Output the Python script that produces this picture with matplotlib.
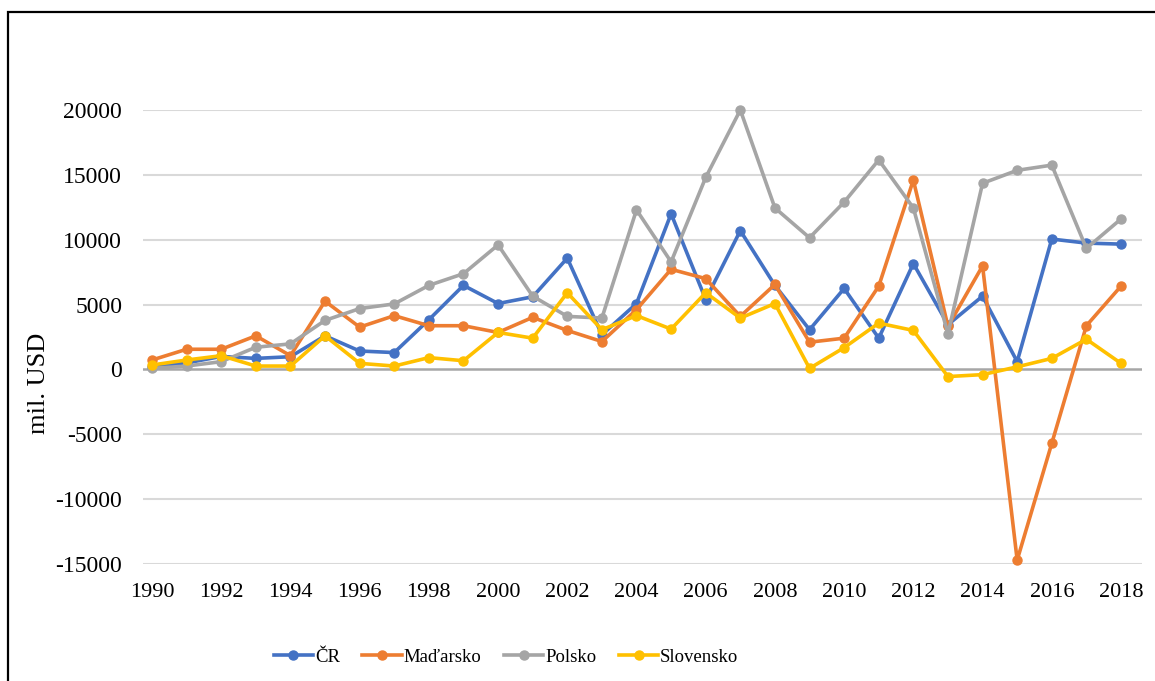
import matplotlib
matplotlib.use("Agg")
import matplotlib.pyplot as plt
from matplotlib.patches import Rectangle

years = list(range(1990, 2019))
cr = [200, 500, 1000, 850, 980, 2590, 1420, 1300, 3830, 6480,
      5080, 5600, 8580, 2670, 5080, 12000, 5390, 10700, 6480, 3060,
      6240, 2410, 8160, 3450, 5650, 600, 10050, 9740, 9660]
madarsko = [725, 1555, 1555, 2590, 1060, 5260, 3260, 4145, 3370, 3370,
            2850, 4015, 3005, 2150, 4610, 7720, 7000, 4090, 6550, 2100,
            2410, 6420, 14600, 3320, 7980, -14700, -5700, 3370, 6420]
polsko = [80, 260, 600, 1710, 1970, 3780, 4690, 5050, 6480, 7380,
          9600, 5650, 4090, 3960, 12300, 8290, 14800, 20000, 12450, 10150,
          12900, 16150, 12450, 2750, 14350, 15350, 15750, 9330, 11600]
slovensko = [340, 725, 1060, 260, 260, 2590, 470, 260, 910, 670,
             2850, 2410, 5910, 3060, 4150, 3110, 5910, 3960, 5080, 80,
             1680, 3570, 3005, -550, -400, 200, 850, 2330, 470]

series = [("ČR", cr, "#4472C4"), ("Maďarsko", madarsko, "#ED7D31"),
          ("Polsko", polsko, "#A5A5A5"), ("Slovensko", slovensko, "#FFC000")]
yticks = list(range(-15000, 20001, 5000))
xticks = list(range(1990, 2019, 2))

plt.rcParams['font.family'] = ['Liberation Serif', 'DejaVu Serif']

W, H = 1155, 681
fig = plt.figure(figsize=(W / 100, H / 100), dpi=100)
ax = fig.add_axes([143 / W, 1 - 564 / H, (1142 - 143) / W, (564 - 110) / H])

for i, (name, vals, col) in enumerate(series):
    ax.plot(years, vals, color=col, lw=2.6, marker='o', ms=6.5,
            label=name, clip_on=False, zorder=3 + i, solid_joinstyle='round')

ax.set_xlim(1990 - 9 / 34.6, 2018 + 21 / 34.6)
ax.set_ylim(-15000, 20000)
ax.set_yticks(yticks)
ax.set_xticks(xticks)
ax.set_yticklabels([str(v) for v in yticks], fontsize=17)
ax.set_xticklabels([str(v) for v in xticks], fontsize=16)
ax.tick_params(axis='both', length=0)
ax.tick_params(axis='y', pad=15)
ax.tick_params(axis='x', pad=14)
for s in ax.spines.values():
    s.set_visible(False)
for v in yticks:
    if v == 0:
        ax.axhline(v, color='#a6a6a6', lw=1.8, zorder=2)
    else:
        ax.axhline(v, color='#d9d9d9', lw=1.5, zorder=1)

ax.set_ylabel("mil. USD", fontsize=19)
ax.yaxis.set_label_coords(-93 / (1142 - 143), (564 - 383) / (564 - 110))

leg = fig.legend(loc='center', bbox_to_anchor=(506 / W, 1 - 657 / H), ncol=4,
                 frameon=False, fontsize=13.5, handlelength=2.1,
                 handletextpad=0.1, columnspacing=1.2)

fig.patches.append(Rectangle((8 / W, -0.1), 1.2, 1 - 12 / H + 0.1,
                             transform=fig.transFigure, fill=False,
                             edgecolor='black', lw=1.6))

fig.savefig("out.png", dpi=100)
